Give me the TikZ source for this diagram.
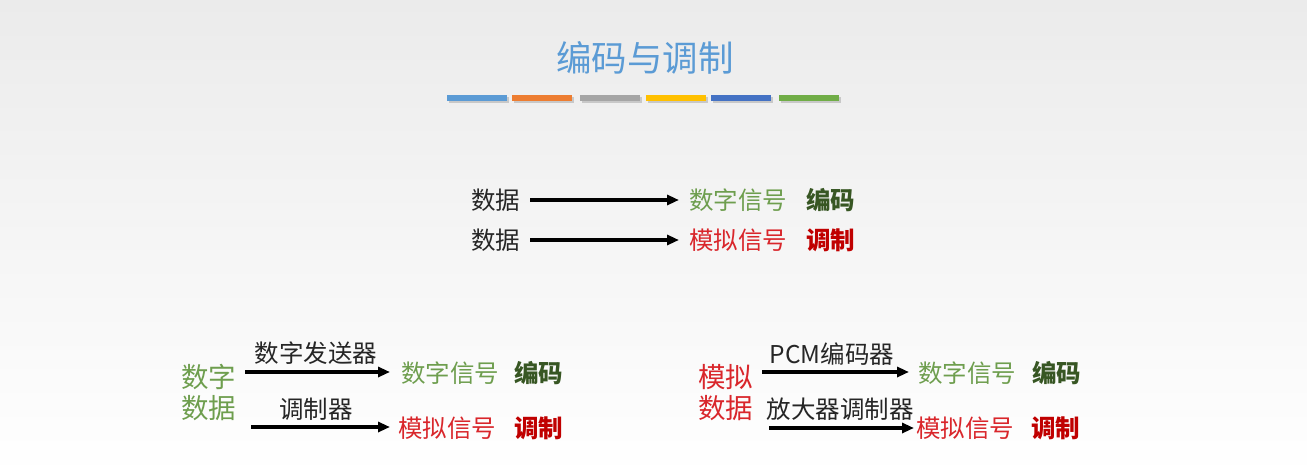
\documentclass[tikz,border=0pt]{standalone}
\usepackage{fontspec}
\setmainfont{Noto Sans CJK SC}
\usetikzlibrary{arrows.meta,shadows}
\definecolor{titleblue}{HTML}{5B9BD5}
\definecolor{barA}{HTML}{5B9BD5}
\definecolor{barB}{HTML}{ED7D31}
\definecolor{barC}{HTML}{A5A5A5}
\definecolor{barD}{HTML}{FFC000}
\definecolor{barE}{HTML}{4472C4}
\definecolor{barF}{HTML}{70AD47}
\definecolor{lgreen}{HTML}{6E9E4E}
\definecolor{dgreen}{HTML}{375623}
\definecolor{lred}{HTML}{D9262B}
\definecolor{dred}{HTML}{C00000}
\definecolor{txt}{HTML}{262626}
\tikzset{
  every node/.style={inner sep=0pt, outer sep=0pt},
  plain/.style={font=\fontsize{24.5}{27}\selectfont, text=txt},
  big/.style={font=\fontsize{27.5}{30}\selectfont, anchor=west},
  sig/.style={font=\fontsize{24.5}{27}\selectfont, anchor=west},
  tag/.style={font=\fontsize{24.5}{27}\selectfont\bfseries, anchor=west},
  arr/.style={line width=3.2pt, -{Triangle[length=12pt,width=10pt]}, black},
  bar/.style={inner sep=0pt, minimum width=60pt, minimum height=6pt, drop shadow={shadow xshift=1.5pt, shadow yshift=-2pt, opacity=0.35}},
}
\begin{document}
\begin{tikzpicture}[x=1pt,y=-1pt]
\shade[top color={rgb,255:red,235;green,235;blue,235}, bottom color=white] (0,0) rectangle (1307,476);
\useasboundingbox (0,0) rectangle (1307,476);
% title
\node[font=\fontsize{35.5}{40}\selectfont, text=titleblue] (title) at (645,58) {编码与调制};
% bars
\node[bar, fill=barA] (b1) at (477,98) {};
\node[bar, fill=barB] (b2) at (542,98) {};
\node[bar, fill=barC] (b3) at (610,98) {};
\node[bar, fill=barD] (b4) at (676,98) {};
\node[bar, fill=barE] (b5) at (741,98) {};
\node[bar, fill=barF] (b6) at (809,98) {};
% middle rows
\node[plain, anchor=west] (d1) at (471,200) {数据};
\node[sig, text=lgreen] (s1) at (689,200) {数字信号};
\node[tag, text=dgreen] (t1) at (806,200) {编码};
\coordinate (a1) at (530,200);
\coordinate (e1) at (679,200);
\draw[arr] (a1) -- (e1);
\node[plain, anchor=west] (d2) at (471,240) {数据};
\node[sig, text=lred] (s2) at (689,240) {模拟信号};
\node[tag, text=dred] (t2) at (806,240) {调制};
\coordinate (a2) at (530,240);
\coordinate (e2) at (679,240);
\draw[arr] (a2) -- (e2);
% bottom left
\node[big, text=lgreen] (dd1) at (181,377) {数字};
\node[big, text=lgreen] (dd2) at (181,408) {数据};
\node[sig, text=lgreen] (s3) at (401,373) {数字信号};
\node[tag, text=dgreen] (t3) at (514,373) {编码};
\coordinate (l1s) at (245,372);
\coordinate (l1e) at (390,372);
\draw[arr] (l1s) -- (l1e);
\node[plain] (lab1) at (316,353) {数字发送器};
\node[sig, text=lred] (s4) at (398,428) {模拟信号};
\node[tag, text=dred] (t4) at (514,428) {调制};
\coordinate (l2s) at (251,427);
\coordinate (l2e) at (390,427);
\draw[arr] (l2s) -- (l2e);
\node[plain] (lab2) at (316,409) {调制器};
% bottom right
\node[big, text=lred] (ad1) at (698,377) {模拟};
\node[big, text=lred] (ad2) at (698,408) {数据};
\node[sig, text=lgreen] (s5) at (918,373) {数字信号};
\node[tag, text=dgreen] (t5) at (1032,373) {编码};
\coordinate (r1s) at (762,372);
\coordinate (r1e) at (909,372);
\draw[arr] (r1s) -- (r1e);
\node[plain] (lab3) at (832,354) {PCM编码器};
\node[sig, text=lred] (s6) at (916,428) {模拟信号};
\node[tag, text=dred] (t6) at (1031,428) {调制};
\coordinate (r2s) at (769,428);
\coordinate (r2e) at (914,428);
\draw[arr] (r2s) -- (r2e);
\node[plain] (lab4) at (840,409) {放大器调制器};
\end{tikzpicture}
\end{document}
